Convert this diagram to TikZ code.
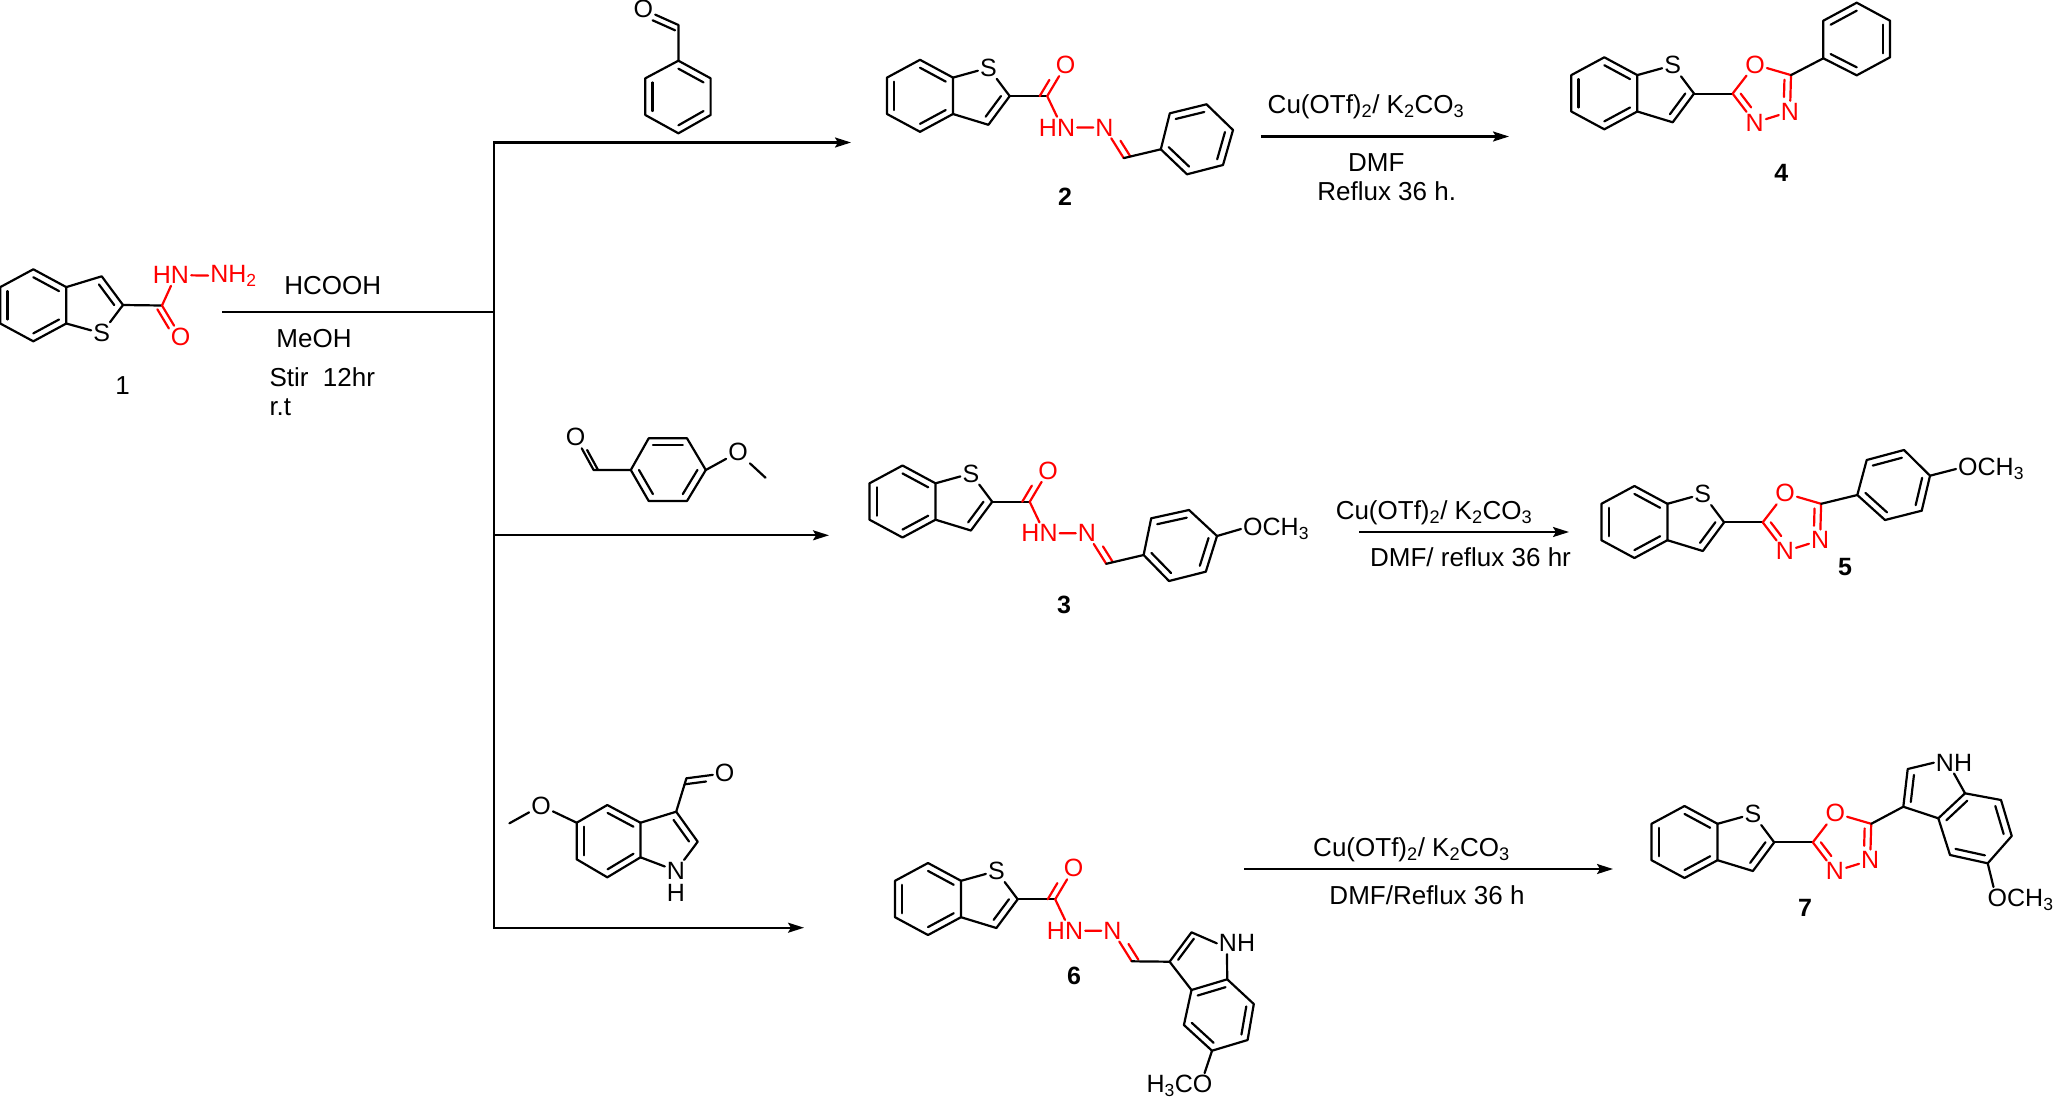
\documentclass[tikz,border=0pt]{standalone}
\usepackage{fontspec}
\setmainfont{Liberation Sans}
\usetikzlibrary{arrows.meta,calc}
\newcommand{\atomfont}{\fontsize{25}{25}\selectfont}
\newcommand{\reagentfont}{\fontsize{26}{26}\selectfont}
\tikzset{
  atom/.style = {inner sep=2pt, font=\atomfont},
  hetero/.style = {atom, text=red},
  bond/.style = {line width=2.2pt, line cap=round, line join=round},
  redbond/.style = {bond, red},
  reagent/.style = {inner sep=0pt, font=\reagentfont},
  cpdlabel/.style = {inner sep=0pt, font=\atomfont\bfseries},
  trunk/.style = {line width=2.2pt, line cap=rect},
  reaction/.style = {line width=2.2pt, -{Stealth[length=16pt,width=10pt,inset=3pt]}}
}
\newcommand{\inbond}[5][]{\draw[bond,#1] ($(#2)!#5!(#4)$) -- ($(#3)!#5!(#4)$);}
\newcommand{\sixring}[7]{
  \coordinate (#1a) at (#2);
  \coordinate (#1b) at (#3);
  \coordinate (#1c) at (#4);
  \coordinate (#1d) at (#5);
  \coordinate (#1e) at (#6);
  \coordinate (#1f) at (#7);
  \coordinate (#1o) at ($(#1a)!.5!(#1d)$);
  \draw[bond] (#1a) -- (#1b) -- (#1c) -- (#1d) -- (#1e) -- (#1f) -- cycle;
  \inbond{#1a}{#1b}{#1o}{.22}
  \inbond{#1c}{#1d}{#1o}{.22}
  \inbond{#1e}{#1f}{#1o}{.22}
}
\newcommand{\benzothio}[4]{
  \begin{scope}[shift={(#2,#3)},yscale=#4]
    \sixring{#1}{0,-36}{33,-18.2}{33,18.2}{0,36}{-33,18.2}{-33,-18.2}
    \node[atom] (#1s) at (68.4,-28) {S};
    \coordinate (#1two) at (89.7,0.3);
    \coordinate (#1three) at (68.4,29);
    \coordinate (#1t) at (58.5,0);
    \draw[bond] (#1c) -- (#1three) -- (#1two) -- (#1s) -- (#1b);
    \inbond{#1three}{#1two}{#1t}{.28}
  \end{scope}
}
\newcommand{\hydrazone}[1]{
  \begin{scope}[shift={(#1two)}]
    \coordinate (#1co) at (37.5,0);
    \node[hetero] (#1ox) at (56,-31) {O};
    \node[hetero] (#1hn) at (47.3,31.4) {HN};
    \node[hetero] (#1nn) at (94.8,31.4) {N};
    \coordinate (#1ch) at (114,62);
    \coordinate (#1side) at (151,53);
  \end{scope}
  \draw[bond] (#1two) -- (#1co);
  \draw[redbond] (#1ox) -- (#1co) -- (#1hn.north);
  \inbond[red,shorten >=10pt]{#1co}{#1ox}{#1two}{.2}
  \draw[redbond] (#1hn) -- (#1nn) -- (#1ch);
  \inbond[red,shorten <=11pt]{#1nn}{#1ch}{#1side}{.18}
}
\newcommand{\oxadiazole}[1]{
  \begin{scope}[shift={(#1two)}]
    \coordinate (#1co) at (38.6,0);
    \node[hetero] (#1ox) at (61,-29) {O};
    \coordinate (#1cn) at (97,-18.5);
    \node[hetero] (#1nr) at (96,18) {N};
    \node[hetero] (#1nl) at (60.7,29) {N};
    \coordinate (#1q) at (70.7,0);
  \end{scope}
  \draw[bond] (#1two) -- (#1co);
  \draw[redbond] (#1co) -- (#1ox) -- (#1cn) -- (#1nr) -- (#1nl) -- (#1co);
  \inbond[red,shorten >=10pt]{#1co}{#1nl}{#1q}{.25}
  \inbond[red,shorten >=10pt]{#1cn}{#1nr}{#1q}{.25}
}
\begin{document}
\begin{tikzpicture}[x=1pt,y=-1pt]
  \useasboundingbox (0,0) rectangle (2055,1101);

  \benzothio{one}{33.3}{305.3}{-1}
  \coordinate (onecarb) at (162,305.5);
  \coordinate (oneside) at (120,340);
  \node[hetero] (oneox) at (180.7,336.7) {O};
  \node[hetero] (onehn) at (171,275) {HN};
  \node[hetero] (onenh) at (233.5,276) {NH\textsubscript{2}};
  \draw[bond] (onetwo) -- (onecarb);
  \draw[redbond] (oneox) -- (onecarb) -- (onehn.south);
  \inbond[red,shorten >=10pt]{onecarb}{oneox}{oneside}{.11}
  \draw[redbond] (onehn) -- (onenh);
  \node[reagent] (cpdone) at (122.7,385.7) {1};
  \node[reagent] (formic) at (332.7,285.7) {HCOOH};
  \node[reagent] (meoh) at (314,338.7) {MeOH};
  \node[reagent,anchor=west] (stir) at (269.3,376.7) {Stir\ \ 12hr};
  \node[reagent,anchor=west] (rt) at (269.3,406.7) {r.t};

  \coordinate (start) at (223.3,311.7);
  \coordinate (join) at (494,311.7);
  \coordinate (top) at (494,142.5);
  \coordinate (mid) at (494,535.3);
  \coordinate (bottom) at (494,927.7);
  \coordinate (endtwo) at (851,142.5);
  \coordinate (endthree) at (829,535.3);
  \coordinate (endsix) at (804,927.7);
  \draw[trunk] (start) -- (join);
  \draw[trunk] (top) -- (bottom);
  \draw[reaction] (top) -- (endtwo);
  \draw[reaction] (mid) -- (endthree);
  \draw[reaction] (bottom) -- (endsix);

  \sixring{ald}{678.4,60.7}{710.6,78.3}{710.6,115}{678.4,133.3}{645.3,115}{645.3,78.3}
  \coordinate (aldcarb) at (678.4,25);
  \node[atom] (aldox) at (643.3,9.3) {O};
  \draw[bond] (alda) -- (aldcarb) -- (aldox);
  \inbond[shorten >=10pt]{aldcarb}{aldox}{aldf}{.1}

  \benzothio{two}{920}{95.8}{1}
  \hydrazone{two}
  \sixring{twop}{1169.8,113.3}{1206.5,104.3}{1233,130}{1223,165}{1187,174.3}{1160.8,149.3}
  \draw[bond] (twoch) -- (twopf);
  \node[cpdlabel] (cpdtwo) at (1065,196.7) {2};

  \coordinate (cuinfour) at (1260.8,136.5);
  \coordinate (cuoutfour) at (1509,136.5);
  \draw[reaction] (cuinfour) -- (cuoutfour);
  \node[reagent] (cufour) at (1366,107) {Cu(OTf)\textsubscript{2}/ K\textsubscript{2}CO\textsubscript{3}};
  \node[reagent] (dmffour) at (1376.3,163) {DMF};
  \node[reagent] (refluxfour) at (1386.7,191) {Reflux 36 h.};

  \benzothio{four}{1604.3}{93.3}{1}
  \oxadiazole{four}
  \sixring{fourp}{1823.3,20.7}{1856.7,2.7}{1890,20.7}{1890,57.3}{1856.7,75.3}{1823.3,58.3}
  \draw[bond] (fourcn) -- (fourpf);
  \node[cpdlabel] (cpdfour) at (1781.3,172.7) {4};

  \sixring{ani}{648.7,438.3}{687,438.3}{705.8,470}{687,501}{648.7,501}{630.8,470}
  \coordinate (anicarb) at (593.6,470);
  \node[atom] (aniox) at (575.7,437.3) {O};
  \node[atom] (anime) at (738,452.3) {O};
  \coordinate (animeend) at (765.5,477.7);
  \draw[bond] (anif) -- (anicarb) -- (aniox);
  \inbond[shorten >=10pt]{anicarb}{aniox}{anif}{.12}
  \draw[bond] (anic) -- (anime) -- (animeend);

  \benzothio{three}{902.5}{501.5}{1}
  \hydrazone{three}
  \sixring{threep}{1151.2,518.3}{1189,510}{1217,536}{1205.8,571.7}{1169,581}{1143.6,555}
  \draw[bond] (threech) -- (threepf);
  \node[atom,anchor=west] (threeome) at (1241,529) {OCH\textsubscript{3}};
  \draw[bond] (threepc) -- (threeome.west);
  \node[cpdlabel] (cpdthree) at (1064,605) {3};

  \coordinate (cuinfive) at (1359,532);
  \coordinate (cuoutfive) at (1569,532);
  \draw[reaction] (cuinfive) -- (cuoutfive);
  \node[reagent] (cufive) at (1434,513) {Cu(OTf)\textsubscript{2}/ K\textsubscript{2}CO\textsubscript{3}};
  \node[reagent] (dmffive) at (1470.5,557) {DMF/ reflux 36 hr};

  \benzothio{five}{1634.4}{522}{1}
  \oxadiazole{five}
  \sixring{fivep}{1866.7,460}{1904,450}{1930,475.7}{1921.7,510.7}{1885,520}{1857.3,495}
  \draw[bond] (fivecn) -- (fivepf);
  \node[atom,anchor=west] (fiveome) at (1956,469) {OCH\textsubscript{3}};
  \draw[bond] (fivepc) -- (fiveome.west);
  \node[cpdlabel] (cpdfive) at (1845,567.3) {5};

  \sixring{ind}{640.5,822.7}{607.3,805}{576.7,822.7}{576.7,859.3}{607.3,877.3}{640.5,857.3}
  \coordinate (indthree) at (676.2,811.7);
  \coordinate (indtwo) at (697.7,841.7);
  \coordinate (indq) at (666.7,841);
  \coordinate (indcarb) at (686.4,778.3);
  \node[atom] (indox) at (724.7,773.3) {O};
  \node[atom] (indn) at (676,870.7) {N};
  \node[atom] (indh) at (676,893.3) {H};
  \node[atom] (indome) at (541,805.7) {O};
  \coordinate (indmeend) at (509.4,823.3);
  \draw[bond] (inda) -- (indthree) -- (indtwo) -- (indn) -- (indf);
  \inbond{indthree}{indtwo}{indq}{.28}
  \draw[bond] (indthree) -- (indcarb) -- (indox);
  \inbond[shorten >=10pt]{indcarb}{indox}{indthree}{.18}
  \draw[bond] (indmeend) -- (indome) -- (indc);

  \benzothio{six}{928}{899}{1}
  \hydrazone{six}
  \sixring{sixp}{1191.5,990}{1227.2,979.3}{1253.8,1004}{1247.6,1040}{1212,1050.7}{1183.9,1025}
  \coordinate (sixthree) at (1169.6,961.7);
  \coordinate (sixtwoc) at (1191.5,932.3);
  \coordinate (sixq) at (1200,955);
  \node[atom] (sixnh) at (1237,943.3) {NH};
  \draw[bond] (sixch) -- (sixthree) -- (sixtwoc) -- (sixnh.west);
  \draw[bond] (sixthree) -- (sixpa);
  \draw[bond] ([xshift=-10pt]sixnh.south) -- (sixpb);
  \inbond{sixthree}{sixtwoc}{sixq}{.28}
  \node[atom] (sixome) at (1179.5,1086) {H\textsubscript{3}CO};
  \draw[bond] (sixpe) -- ([xshift=-10pt]sixome.north east);
  \node[cpdlabel] (cpdsix) at (1074,976) {6};

  \coordinate (cuinseven) at (1244,869);
  \coordinate (cuoutseven) at (1613,869);
  \draw[reaction] (cuinseven) -- (cuoutseven);
  \node[reagent] (cuseven) at (1411.5,850) {Cu(OTf)\textsubscript{2}/ K\textsubscript{2}CO\textsubscript{3}};
  \node[reagent] (dmfseven) at (1427,895) {DMF/Reflux 36 h};

  \benzothio{seven}{1684.5}{842}{1}
  \oxadiazole{seven}
  \sixring{sevenp}{1938.3,818.3}{1965,793.3}{2001,800}{2011.7,836}{1987.7,863.3}{1950,855}
  \coordinate (seventhree) at (1903.3,806.7);
  \coordinate (seventwoc) at (1907.7,769);
  \coordinate (sevenq) at (1930,790);
  \node[atom] (sevennh) at (1954,762.7) {NH};
  \draw[bond] (sevencn) -- (seventhree) -- (seventwoc) -- (sevennh.west);
  \draw[bond] (seventhree) -- (sevenpa);
  \draw[bond] (sevennh.south) -- (sevenpb);
  \inbond{seventhree}{seventwoc}{sevenq}{.28}
  \node[atom,anchor=north west] (sevenome) at (1985.5,887) {OCH\textsubscript{3}};
  \draw[bond] (sevenpe) -- ([xshift=8pt]sevenome.north west);
  \node[cpdlabel] (cpdseven) at (1805,907.7) {7};
\end{tikzpicture}
\end{document}
